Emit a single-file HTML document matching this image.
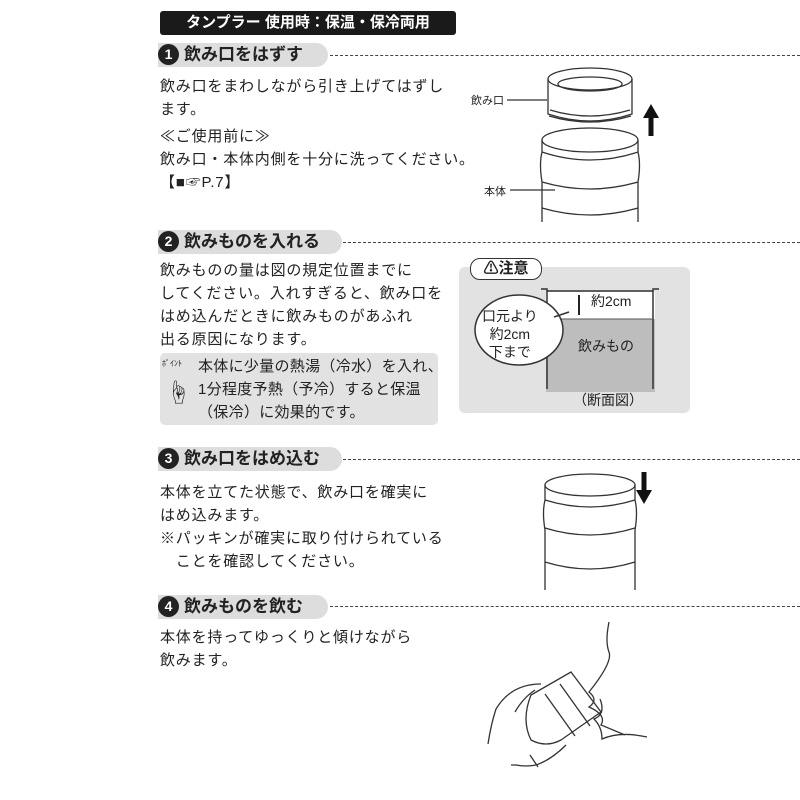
<!DOCTYPE html>
<html><head><meta charset="utf-8"><style>
body{margin:0;background:#fff;width:800px;height:800px;position:relative;overflow:hidden;font-family:"Liberation Sans","Noto Sans CJK JP",sans-serif;color:#222}
.a{position:absolute;white-space:nowrap}
.t{font-size:15px;line-height:23px;letter-spacing:0.8px}
.hd{position:absolute;left:158px;height:24px;background:#ddd;border-radius:0 12px 12px 0;font-weight:bold;font-size:17px;line-height:24px;padding-left:26px}
.num{position:absolute;left:0;top:1px;width:21px;height:21px;border-radius:50%;background:#222;color:#fff;font-size:14px;line-height:21px;text-align:center}
.dash{position:absolute;height:0;border-top:1.5px dashed #444;right:0}
</style></head><body>
<div class="a" style="left:160px;top:11px;width:296px;height:24px;background:#1a1a1a;border-radius:3px;color:#fff;font-weight:bold;font-size:15px;line-height:24px;text-align:center">タンプラー 使用時：保温・保冷両用</div>

<div class="hd" style="top:43px;width:144px"><span class="num">1</span>飲み口をはずす</div>
<div class="dash" style="left:330px;top:55px"></div>
<div class="a t" style="left:160px;top:75px">飲み口をまわしながら引き上げてはずし<br>ます。</div>
<div class="a t" style="left:160px;top:125px">≪ご使用前に≫<br>飲み口・本体内側を十分に洗ってください。<br>【■☞P.7】</div>

<div class="hd" style="top:230px;width:158px"><span class="num">2</span>飲みものを入れる</div>
<div class="dash" style="left:343px;top:242px"></div>
<div class="a t" style="left:160px;top:259px">飲みものの量は図の規定位置までに<br>してください。入れすぎると、飲み口を<br>はめ込んだときに飲みものがあふれ<br>出る原因になります。</div>
<div class="a" style="left:160px;top:353px;width:278px;height:72px;background:#e2e2e2;border-radius:5px"></div>
<div class="a" style="left:162px;top:358px;font-size:8px">ﾎﾟｲﾝﾄ</div>
<div class="a" style="left:166px;top:373px;font-size:24px">☝</div>
<div class="a t" style="left:198px;top:355px;letter-spacing:0.3px">本体に少量の熱湯（冷水）を入れ、<br>1分程度予熱（予冷）すると保温<br>（保冷）に効果的です。</div>

<div class="a" style="left:459px;top:267px;width:231px;height:146px;background:#e2e2e2;border-radius:6px"></div>
<div class="a" style="left:470px;top:258px;width:70px;height:20px;background:#fff;border:1.5px solid #333;border-radius:10px;font-weight:bold;font-size:15px;line-height:20px;text-align:center">⚠注意</div>
<svg class="a" style="left:459px;top:267px" width="231" height="146">
<rect x="87" y="52" width="109" height="73" fill="#bdbdbd"/>
<rect x="87" y="25" width="109" height="27" fill="#fff"/>
<path d="M82 22h6v100M200 22h-6v100" fill="none" stroke="#333" stroke-width="1.5"/>
<path d="M88 24h106" stroke="#333" stroke-width="1.5"/>
<path d="M88 52h106" stroke="#555"/>
<ellipse cx="60" cy="63" rx="44" ry="35" fill="#fff" stroke="#333" stroke-width="1.5"/>
<path d="M95 50l15-5" stroke="#333" stroke-width="1.5"/>
<path d="M120 28v20" stroke="#222" stroke-width="2"/>
</svg>
<div class="a" style="left:591px;top:291px;font-size:14px">約2cm</div>
<div class="a" style="left:482px;top:307px;font-size:14px;line-height:18px;text-align:center">口元より<br>約2cm<br>下まで</div>
<div class="a" style="left:578px;top:336px;font-size:14px">飲みもの</div>
<div class="a" style="left:573px;top:390px;font-size:14px">（断面図）</div>

<div class="hd" style="top:447px;width:158px"><span class="num">3</span>飲み口をはめ込む</div>
<div class="dash" style="left:343px;top:459px"></div>
<div class="a t" style="left:160px;top:481px">本体を立てた状態で、飲み口を確実に<br>はめ込みます。<br>※パッキンが確実に取り付けられている<br>　ことを確認してください。</div>

<div class="hd" style="top:595px;width:144px"><span class="num">4</span>飲みものを飲む</div>
<div class="dash" style="left:330px;top:606px"></div>
<div class="a t" style="left:160px;top:626px">本体を持ってゆっくりと傾けながら<br>飲みます。</div>

<div class="a" style="left:471px;top:92px;font-size:11px">飲み口</div>
<div class="a" style="left:484px;top:183px;font-size:11px">本体</div>
<svg class="a" style="left:0;top:0" width="800" height="800" fill="none" stroke="#333" stroke-width="1.3">
<path d="M507 100h40M510 190h45"/>
<ellipse cx="590" cy="79" rx="42" ry="11"/>
<ellipse cx="590" cy="84" rx="32" ry="7"/>
<path d="M548 79v35q42 14 84 0v-35"/>
<path d="M550 110q40 12 80 0M549 116q41 12 82 0"/>
<ellipse cx="590" cy="140" rx="48" ry="12"/>
<path d="M542 140v12q48 16 96 0v-12M542 152q-3 12 0 30v40M638 152q3 12 0 30v40M542 182q48 14 96 0M542 208q48 14 96 0"/>
<path d="M651 136v-20" stroke="#111" stroke-width="5"/><path d="M643 118l8-14 8 14z" fill="#111" stroke="none"/>
<ellipse cx="590" cy="485" rx="45" ry="11"/>
<path d="M545 485v15q45 14 90 0v-15M545 500q-3 12 0 30v60M635 500q3 12 0 30v60M545 528q45 14 90 0M545 562q45 14 90 0"/>
<path d="M644 472v20" stroke="#111" stroke-width="5"/><path d="M636 490l8 14 8-14z" fill="#111" stroke="none"/>
<path d="M609 622q-4 20 0 30t-20 40q10 8 0 15q18 8 12 18q12 5 24 10M600 699q6 15-6 20q8 8 8 20q18-8 45-2"/>
<path d="M571 672l30 40-40 28q-15 8-30 0q-10-20 0-45z"/>
<path d="M545 694l30 42M560 684l30 42"/>
<path d="M541 684q-30 0-45 25q-5 15-8 35M535 690q-12 8-20 22M566 745q-15 15-30 20q-10 2-20 0h-5M530 755l8 12"/>
</svg>
</body></html>
